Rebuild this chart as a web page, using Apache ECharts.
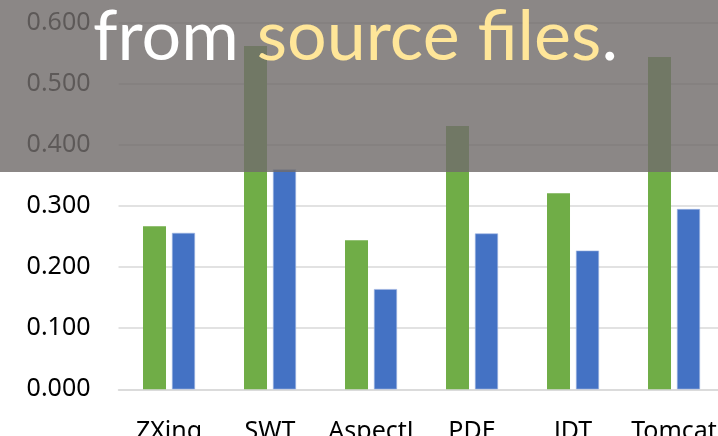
<!DOCTYPE html>
<html><head><meta charset="utf-8">
<script src="https://cdn.jsdelivr.net/npm/echarts@6/dist/echarts.min.js"></script>
<style>html,body{margin:0;padding:0;background:#fff}#c{width:718px;height:436px}</style>
</head><body><div id="c"></div>
<script>
const categories = ["ZXing", "SWT", "AspectJ", "PDE", "JDT", "Tomcat"];
const greenValues = [0.267, 0.562, 0.244, 0.431, 0.321, 0.544];
const blueValues = [0.256, 0.360, 0.164, 0.255, 0.227, 0.295];
const yTicks = { min: 0, max: 0.6, interval: 0.1 };

const chart = echarts.init(document.getElementById('c'));
chart.setOption({
  animation: false,
  grid: { left: 118.5, right: -6.5, top: 22.7, bottom: 46.7, containLabel: false, outerBoundsMode: 'none' },
  xAxis: {
    type: 'category', data: categories,
    axisLine: { show: true, lineStyle: { color: '#d9d9d9', width: 1.5 } },
    axisTick: { show: false },
    axisLabel: { color: '#000', fontFamily: 'Noto Sans', fontSize: 25, margin: 30, interval: 0,
      hideOverlap: false }
  },
  yAxis: {
    type: 'value', min: yTicks.min, max: yTicks.max, interval: yTicks.interval,
    axisLine: { show: false }, axisTick: { show: false },
    splitLine: { lineStyle: { color: '#d9d9d9', width: 1.5 } },
    axisLabel: { color: '#000', fontFamily: 'Noto Sans', fontSize: 25, margin: 28,
      formatter: v => v.toFixed(3) }
  },
  series: [
    { type: 'bar', data: greenValues, barWidth: 23, barGap: '26%',
      itemStyle: { color: '#70ad47' } },
    { type: 'bar', data: blueValues, barWidth: 23, barGap: '26%',
      itemStyle: { color: '#4472c4', borderColor: '#9db4e0', borderWidth: 0.6 } }
  ],
  graphic: [
    { type: 'rect', z: 100, shape: { x: 0, y: 0, width: 718, height: 172 },
      style: { fill: 'rgba(113,108,107,0.82)' } },
    { type: 'text', z: 101, x: 93, y: 2,
      style: {
        text: '{w|from }{y|source files}{w|.}',
        verticalAlign: 'top',
        rich: {
          w: { fill: '#ffffff', fontFamily: 'Lato', fontSize: 70 },
          y: { fill: '#ffe699', fontFamily: 'Lato', fontSize: 70 }
        }
      } }
  ]
});
</script></body></html>
